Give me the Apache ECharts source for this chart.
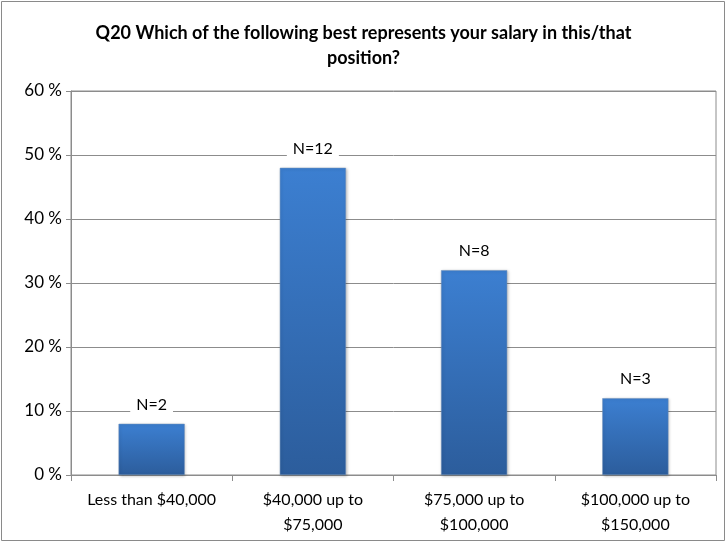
<!DOCTYPE html>
<html>
<head>
<meta charset="utf-8">
<script src="https://cdn.jsdelivr.net/npm/echarts@6/dist/echarts.min.js"></script>
<style>
    html, body { margin: 0; padding: 0; background: #fff; }
    #chart { width: 727px; height: 543px; }
</style>
</head>
<body>
<div id="chart"></div>
<script>
// salary bands and share of respondents (%)
const categories = ['Less than $40,000', '$40,000 up to\n$75,000', '$75,000 up to\n$100,000', '$100,000 up to\n$150,000']
const percents = [8, 48, 32, 12]
const counts = ['N=2', 'N=12', 'N=8', 'N=3']
const titleText = 'Q20 Which of the following best represents your salary in this/that\nposition?'

const fontFamily = 'Lato, "Open Sans", sans-serif'
let myChart = echarts.init(document.getElementById('chart'))
let option = {
    animation: false,
    textStyle: { fontFamily: fontFamily },
    graphic: [
        {
            type: 'rect',
            shape: { x: 1.5, y: 1.5, width: 723, height: 539 },
            style: { fill: 'none', stroke: '#8a8a8a', lineWidth: 1 },
        },
    ],
    title: {
        text: titleText,
        left: 'center',
        top: 16,
        textStyle: {
            fontFamily: fontFamily,
            fontSize: 18,
            fontWeight: 'bold',
            color: '#000',
            lineHeight: 25,
        },
    },
    grid: {
        left: 71,
        right: 11,
        top: 91,
        bottom: 68,
        show: true,
        borderColor: '#8c8c8c',
        borderWidth: 1,
    },
    xAxis: {
        type: 'category',
        data: categories,
        axisLine: { lineStyle: { color: '#8c8c8c' } },
        axisTick: { show: true, length: 6, lineStyle: { color: '#8c8c8c' } },
        axisLabel: { color: '#000', fontSize: 16, margin: 12, lineHeight: 25, interval: 0 },
    },
    yAxis: {
        type: 'value',
        min: 0,
        max: 60,
        interval: 10,
        axisLine: { show: true, lineStyle: { color: '#8c8c8c' } },
        axisTick: { show: true, length: 5, lineStyle: { color: '#8c8c8c' } },
        splitLine: { lineStyle: { color: '#8c8c8c' } },
        axisLabel: { color: '#000', fontSize: 17, margin: 9, formatter: '{value} %' },
    },
    series: [
        {
            type: 'bar',
            data: percents,
            barWidth: '41%',
            itemStyle: {
                color: new echarts.graphic.LinearGradient(0, 0, 0, 1, [
                    { offset: 0, color: '#3c7fd1' },
                    { offset: 1, color: '#2c5d9c' },
                ]),
                borderColor: '#6c8fb8',
                borderWidth: 0.5,
                shadowColor: 'rgba(0,0,0,0.25)',
                shadowBlur: 3,
                shadowOffsetX: 1,
                shadowOffsetY: 1,
            },
            label: {
                show: true,
                position: 'top',
                distance: 10,
                color: '#000',
                fontSize: 16,
                backgroundColor: '#fff',
                padding: [1, 6],
                formatter: function (p) {
                    return counts[p.dataIndex]
                },
            },
        },
    ],
}
myChart.setOption(option)
</script>
</body>
</html>
